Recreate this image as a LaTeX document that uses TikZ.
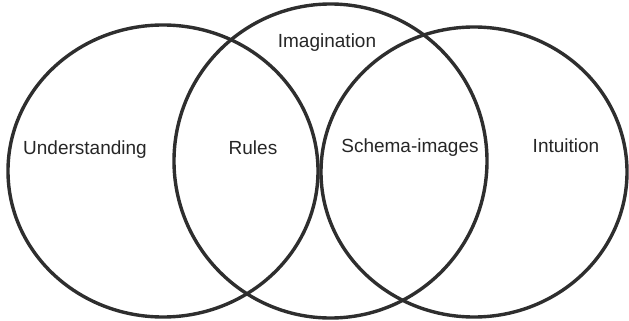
\documentclass[tikz,border=0pt]{standalone}
\usepackage{fontspec}
\setmainfont{Liberation Sans}
\begin{document}
\begin{tikzpicture}[x=1pt,y=-1pt,
  ring/.style={draw=black!82,line width=3.4pt},
  lbl/.style={anchor=base,inner sep=0pt,font=\fontsize{19}{21}\selectfont,text=black!85}]
\useasboundingbox (0,0) rectangle (629,321);
\draw[ring] (163,171) ellipse [x radius=155, y radius=146];
\draw[ring] (330.5,161) ellipse [x radius=156.5, y radius=157];
\draw[ring] (474,172) ellipse [x radius=153, y radius=145];
\node[lbl] (und) at (85,154) {Understanding};
\node[lbl] (rul) at (253,154) {Rules};
\node[lbl] (sch) at (410,152) {Schema-images};
\node[lbl] (int) at (566,152) {Intuition};
\node[lbl] (ima) at (327,48) {Imagination};
\end{tikzpicture}
\end{document}
